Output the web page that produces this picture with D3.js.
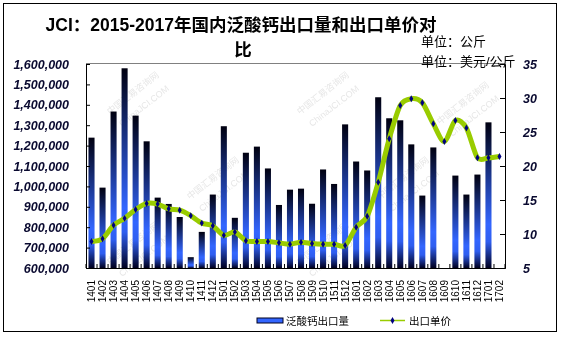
<!DOCTYPE html>
<html><head><meta charset="utf-8">
<script src="https://cdn.jsdelivr.net/npm/d3@7"></script>
<style>
html,body{margin:0;padding:0;background:#fff;}
svg{display:block;}
text{font-family:Arial,"Liberation Sans","Noto Sans CJK SC",sans-serif;}
</style></head>
<body>
<svg id="c" width="563" height="337"></svg>
<script>
const categories = ["1401","1402","1403","1404","1405","1406","1407","1408","1409","1410","1411","1412",
"1501","1502","1503","1504","1505","1506","1507","1508","1509","1510","1511","1512",
"1601","1602","1603","1604","1605","1606","1607","1608","1609","1610","1611","1612","1701","1702"];
const volume = [1239000,994000,1367000,1579000,1347000,1221000,945000,914000,850000,653000,777000,960000,
1295000,846000,1165000,1195000,1088000,909000,984000,989000,915000,1083000,1012000,1304000,
1122000,1078000,1437000,1334000,1324000,1206000,955000,1191000,null,1053000,960000,1058000,1314000,null];
const price = [8.9,9.3,11.3,12.3,13.6,14.5,14.4,13.7,13.5,12.7,11.6,11.2,
9.8,10.3,9.0,8.9,8.9,8.7,8.5,8.8,8.6,8.5,8.5,8.3,
11.0,12.6,17.6,24.0,28.9,29.9,29.3,26.2,23.6,26.7,25.6,21.2,21.2,21.4];
const leftTicks = [600000,700000,800000,900000,1000000,1100000,1200000,1300000,1400000,1500000,1600000];
const rightTicks = [5,10,15,20,25,30,35];
const titleText = "JCI：2015-2017年国内泛酸钙出口量和出口单价对";
const titleText2 = "比";
const unit1 = "单位：公斤";
const unit2 = "单位：美元/公斤";
const legendNames = ["泛酸钙出口量","出口单价"];

const svg = d3.select("#c");
const L=86, R=505, T=64, B=268;

// outer border
svg.append("rect").attr("x",3.5).attr("y",3.5).attr("width",553).attr("height",328)
  .attr("fill","#fff").attr("stroke","#000").attr("stroke-width",1);

// watermarks
const wm = svg.append("g").attr("fill","#c8c8c8").attr("opacity",0.45).attr("font-size",9);
[[110,115],[300,115],[440,125],[190,200],[380,200],[110,265],[300,265]].forEach(([x,y])=>{
  wm.append("text").attr("transform",`translate(${x},${y}) rotate(-38)`).text("中国汇易咨询网");
  wm.append("text").attr("transform",`translate(${x+12},${y+12}) rotate(-38)`).text("ChinaJCI.COM");
});

const x = d3.scaleBand().domain(categories).range([L,R]).paddingInner(0.45).paddingOuter(0.225);
const yL = d3.scaleLinear().domain([600000,1600000]).range([B,T]);
const yR = d3.scaleLinear().domain([5,35]).range([B,T]);

const defs = svg.append("defs");
const g = defs.append("linearGradient").attr("id","bg").attr("x1",0).attr("y1",0).attr("x2",0).attr("y2",1);
g.append("stop").attr("offset","0%").attr("stop-color","#000010");
g.append("stop").attr("offset","70%").attr("stop-color","#3366ff");
g.append("stop").attr("offset","82%").attr("stop-color","#2f5ef0");
g.append("stop").attr("offset","100%").attr("stop-color","#000020");

// top gray plot border
svg.append("line").attr("x1",L).attr("x2",R).attr("y1",T-0.5).attr("y2",T-0.5).attr("stroke","#808080");

// bars
svg.append("g").selectAll("rect").data(categories.map((c,i)=>({c,v:volume[i]})).filter(d=>d.v!=null))
 .join("rect").attr("x",d=>x(d.c)).attr("width",x.bandwidth())
 .attr("y",d=>yL(d.v)).attr("height",d=>B-yL(d.v)).attr("fill","url(#bg)");

// axes
const axL = d3.axisLeft(yL).tickValues(leftTicks).tickSize(-4).tickPadding(17).tickFormat(d3.format(","));
const gl = svg.append("g").attr("transform",`translate(${L},0)`).call(axL);
const axR = d3.axisRight(yR).tickValues(rightTicks).tickSize(-5).tickPadding(18);
const gr = svg.append("g").attr("transform",`translate(${R},0)`).call(axR);
[gl,gr].forEach(a=>{
  a.select(".domain").attr("stroke","#000");
  a.selectAll(".tick line").attr("stroke","#000");
  a.selectAll("text").attr("font-size",12.5).attr("font-weight","bold").attr("font-style","italic").attr("fill","#0a0a30");
});
const axB = d3.axisBottom(x).tickSize(0).tickFormat(d=>d);
const gb = svg.append("g").attr("transform",`translate(0,${B})`).call(axB);
gb.select(".domain").attr("stroke","#000");
gb.selectAll("text").attr("font-size",10).attr("fill","#000")
  .attr("transform","rotate(-90)").attr("text-anchor","end").attr("x",-12).attr("y",0).attr("dy","0.35em");
// bottom ticks between categories
svg.append("g").selectAll("line").data(d3.range(categories.length+1)).join("line")
  .attr("x1",i=>L+i*x.step()).attr("x2",i=>L+i*x.step()).attr("y1",B-4).attr("y2",B).attr("stroke","#000");

// line
const pts = categories.map((c,i)=>[x(c)+x.bandwidth()/2, yR(price[i])]);
svg.append("path").attr("d",d3.line().curve(d3.curveCardinal.tension(0.15))(pts))
  .attr("fill","none").attr("stroke","#99cc00").attr("stroke-width",5).attr("stroke-linejoin","round");
svg.append("g").selectAll("path").data(pts).join("path")
  .attr("transform",d=>`translate(${d[0]},${d[1]})`)
  .attr("d",d3.symbol(d3.symbolDiamond,14)).attr("fill","#000080");

// title
svg.append("text").attr("x",241).attr("y",31).attr("text-anchor","middle").attr("font-size",17.5)
 .attr("font-weight","bold").attr("fill","#000").text(titleText);
svg.append("text").attr("x",243).attr("y",56).attr("text-anchor","middle").attr("font-size",17.5)
 .attr("font-weight","bold").attr("fill","#000").text(titleText2);
svg.append("text").attr("x",421).attr("y",46).attr("font-size",13).attr("fill","#000").text(unit1);
svg.append("text").attr("x",421).attr("y",66).attr("font-size",13).attr("fill","#000").text(unit2);

// legend
svg.append("rect").attr("x",257).attr("y",318).attr("width",26).attr("height",5)
  .attr("fill","#3366ff").attr("stroke","#000020").attr("stroke-width",1);
svg.append("text").attr("x",286).attr("y",324.5).attr("font-size",10.5).attr("fill","#000").text(legendNames[0]);
svg.append("line").attr("x1",380).attr("x2",405).attr("y1",320.5).attr("y2",320.5).attr("stroke","#99cc00").attr("stroke-width",1.5);
svg.append("path").attr("transform","translate(392.5,320.5)").attr("d",d3.symbol(d3.symbolDiamond,14)).attr("fill","#000080");
svg.append("text").attr("x",409).attr("y",324.5).attr("font-size",10.5).attr("fill","#000").text(legendNames[1]);
</script>
</body></html>
